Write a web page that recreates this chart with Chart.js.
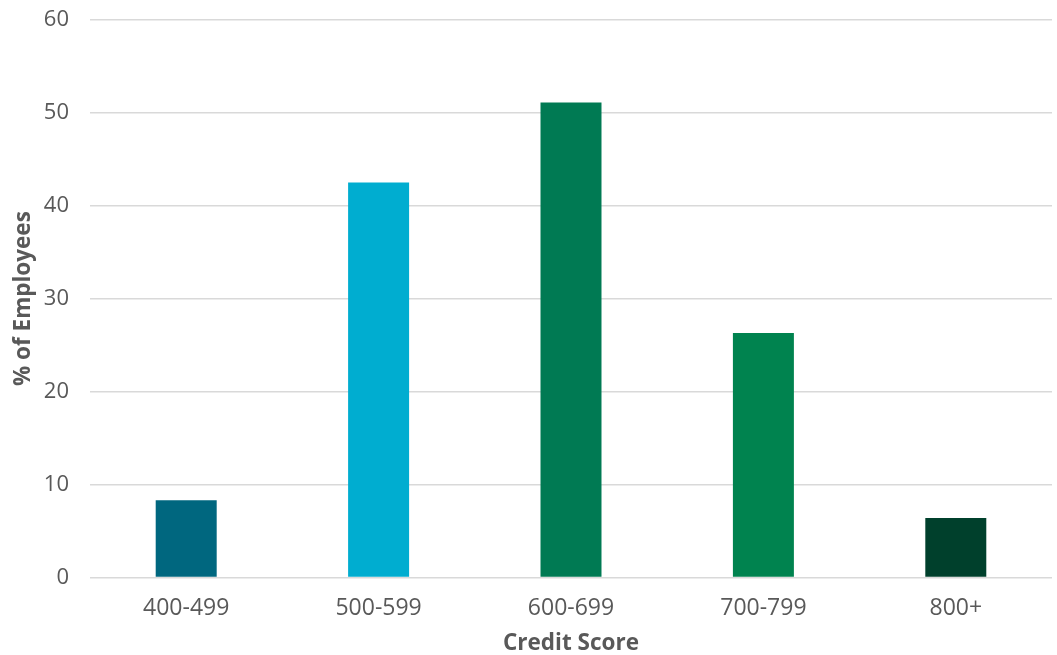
<!DOCTYPE html>
<html>
<head>
<meta charset="utf-8">
<script src="https://cdn.jsdelivr.net/npm/chart.js@4"></script>
<style>
  html, body { margin: 0; padding: 0; background: #ffffff; }
  #wrap { width: 1057px; height: 655px; position: relative; }
</style>
</head>
<body>
<div id="wrap"><canvas id="c" width="1057" height="655"></canvas></div>
<script>
const categories = ["400-499", "500-599", "600-699", "700-799", "800+"];
const values = [8.3, 42.5, 51.1, 26.3, 6.4];
const barColors = ["#00677F", "#00ADD0", "#007A53", "#00834F", "#00402C"];
const yTicks = [0, 10, 20, 30, 40, 50, 60];
const xTitle = "Credit Score";
const yTitle = "% of Employees";

const FONT = "'Open Sans', 'DejaVu Sans', sans-serif";
const TXT = "#595959";

new Chart(document.getElementById('c'), {
  type: 'bar',
  data: {
    labels: categories,
    datasets: [{
      data: values,
      backgroundColor: barColors,
      borderWidth: 0,
      categoryPercentage: 1,
      barPercentage: 0.317
    }]
  },
  options: {
    responsive: false,
    animation: false,
    devicePixelRatio: 1,
    layout: { padding: { top: 19.7, right: 5, bottom: 0, left: 0 } },
    plugins: { legend: { display: false }, tooltip: { enabled: false } },
    scales: {
      x: {
        grid: { display: false, drawTicks: false },
        border: { display: false },
        ticks: { color: TXT, font: { family: FONT, size: 23 }, padding: 17.5 },
        title: { display: true, text: xTitle, color: TXT, font: { family: FONT, size: 22.5, weight: 'bold', lineHeight: 1 }, padding: { top: 0, bottom: 0 } },
        afterFit: s => { s.height = 77.5; s.paddingLeft = 0; s.paddingRight = 0; }
      },
      y: {
        min: 0, max: 60,
        afterBuildTicks: s => { s.ticks = yTicks.map(v => ({ value: v })); },
        grid: { color: "#d9d9d9", lineWidth: 1.6, drawTicks: false },
        border: { display: false },
        ticks: { color: TXT, font: { family: FONT, size: 22 }, padding: 21 },
        title: { display: true, text: yTitle, color: TXT, font: { family: FONT, size: 22.5, weight: 'bold', lineHeight: 1 }, padding: { top: 12.75, bottom: 0 } },
        afterFit: s => { s.width = 90; s.paddingTop = 0; s.paddingBottom = 0; }
      }
    }
  }
});
</script>
</body>
</html>
